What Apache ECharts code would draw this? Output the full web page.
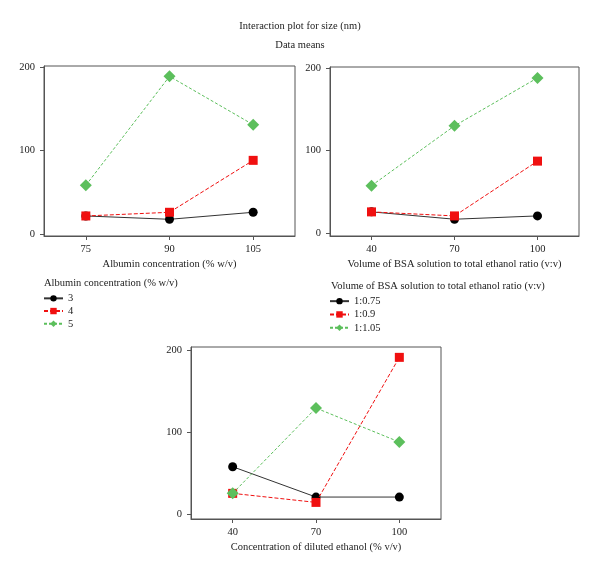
<!DOCTYPE html>
<html>
<head>
<meta charset="utf-8">
<script src="https://cdn.jsdelivr.net/npm/echarts@6/dist/echarts.min.js"></script>
<style>
html,body{margin:0;padding:0;background:#fff;}
#c{width:600px;height:576px;}
</style>
</head>
<body>
<div id="c"></div>
<script>
// ---- data ----
var albuminCats = ['75', '90', '105'];
var ratioCats = ['40', '70', '100'];
var ethanolCats = ['40', '70', '100'];
var yTicks = [0, 100, 200];

var albuminLevels = ['3', '4', '5'];
var ratioLevels = ['1:0.75', '1:0.9', '1:1.05'];

var p1Black = [21.6, 17.6, 26.0];
var p1Red   = [21.6, 26.0, 88.2];
var p1Green = [58.3, 188.8, 130.9];

var p2Black = [25.9, 17.0, 21.0];
var p2Red   = [25.9, 21.0, 87.3];
var p2Green = [57.6, 130.0, 188.0];

var p3Black = [58.4, 21.5, 21.5];
var p3Red   = [26.0, 15.0, 191.5];
var p3Green = [26.0, 129.8, 88.5];

// ---- styles ----
var FONT = 'Liberation Serif';
var FS = 10.5;
var TXT = '#222';
var AX = '#555';
var BLACK = '#000000';
var RED = '#f01010';
var GREEN = '#5cbf5c';

function xAxis(grid, cats, name) {
  return {
    type: 'category', gridIndex: grid, data: cats, boundaryGap: true,
    name: name, nameLocation: 'middle', nameGap: 23,
    nameTextStyle: {fontFamily: FONT, fontSize: FS, color: TXT},
    axisLine: {show: true, onZero: false, lineStyle: {color: AX, width: 1}},
    axisTick: {show: true, alignWithLabel: true, length: 4, lineStyle: {color: AX}},
    axisLabel: {fontFamily: FONT, fontSize: FS, color: TXT, margin: 8},
    splitLine: {show: false}
  };
}
function yAxis(grid, mn, mx) {
  return {
    type: 'value', gridIndex: grid, min: mn, max: mx,
    axisLine: {show: true, onZero: false, lineStyle: {color: AX, width: 1}},
    axisTick: {show: true, length: 4, lineStyle: {color: AX}, customValues: yTicks},
    axisLabel: {fontFamily: FONT, fontSize: FS, color: TXT, margin: 9, customValues: yTicks},
    splitLine: {show: false}
  };
}
function ser(name, grid, data, kind) {
  var color, symbol, size, ls;
  if (kind === 0) { color = BLACK; symbol = 'circle'; size = 9; ls = {color: '#333', width: 1, type: 'solid'}; }
  else if (kind === 1) { color = RED; symbol = 'rect'; size = 9; ls = {color: RED, width: 1, type: [4, 2]}; }
  else { color = GREEN; symbol = 'diamond'; size = 12; ls = {color: GREEN, width: 1, type: [3, 2]}; }
  return {
    name: name, type: 'line', xAxisIndex: grid, yAxisIndex: grid, data: data,
    symbol: symbol, symbolSize: size, showSymbol: true,
    itemStyle: {color: color, borderWidth: 0},
    lineStyle: ls, z: 2 + kind, animation: false
  };
}

var option = {
  backgroundColor: '#fff',
  animation: false,
  title: [
    {text: 'Interaction plot for size (nm)', left: 'center', top: 16,
     textStyle: {fontFamily: FONT, fontSize: FS, fontWeight: 'normal', color: TXT}},
    {text: 'Data means', left: 'center', top: 35,
     textStyle: {fontFamily: FONT, fontSize: FS, fontWeight: 'normal', color: TXT}},
    {text: 'Albumin concentration (% w/v)', left: 39, top: 273,
     textStyle: {fontFamily: FONT, fontSize: FS, fontWeight: 'normal', color: TXT}},
    {text: 'Volume of BSA solution to total ethanol ratio (v:v)', left: 326, top: 276,
     textStyle: {fontFamily: FONT, fontSize: FS, fontWeight: 'normal', color: TXT}}
  ],
  legend: [
    {data: albuminLevels, orient: 'vertical', left: 43, top: 292, itemWidth: 19, itemHeight: 8, itemGap: 0,
     padding: 0, textStyle: {fontFamily: FONT, fontSize: FS, color: TXT, lineHeight: 12.7}},
    {data: ratioLevels, orient: 'vertical', left: 329, top: 294.5, itemWidth: 19, itemHeight: 8, itemGap: 0,
     padding: 0, textStyle: {fontFamily: FONT, fontSize: FS, color: TXT, lineHeight: 13.3}}
  ],
  grid: [
    {left: 44, top: 66, width: 251, height: 170, show: true, borderColor: AX, borderWidth: 1, containLabel: false},
    {left: 330, top: 67, width: 249, height: 169, show: true, borderColor: AX, borderWidth: 1, containLabel: false},
    {left: 191, top: 347, width: 250, height: 172, show: true, borderColor: AX, borderWidth: 1, containLabel: false}
  ],
  xAxis: [
    xAxis(0, albuminCats, 'Albumin concentration (% w/v)'),
    xAxis(1, ratioCats, 'Volume of BSA solution to total ethanol ratio (v:v)'),
    xAxis(2, ethanolCats, 'Concentration of diluted ethanol (% v/v)')
  ],
  yAxis: [
    yAxis(0, -2.4, 201.2),
    yAxis(1, -3.3, 201.2),
    yAxis(2, -5.2, 204.1)
  ],
  series: [
    ser('3', 0, p1Black, 0),
    ser('4', 0, p1Red, 1),
    ser('5', 0, p1Green, 2),
    ser('1:0.75', 1, p2Black, 0),
    ser('1:0.9', 1, p2Red, 1),
    ser('1:1.05', 1, p2Green, 2),
    ser('1:0.75', 2, p3Black, 0),
    ser('1:0.9', 2, p3Red, 1),
    ser('1:1.05', 2, p3Green, 2)
  ]
};

var chart = echarts.init(document.getElementById('c'), null, {renderer: 'canvas'});
chart.setOption(option);
</script>
</body>
</html>
